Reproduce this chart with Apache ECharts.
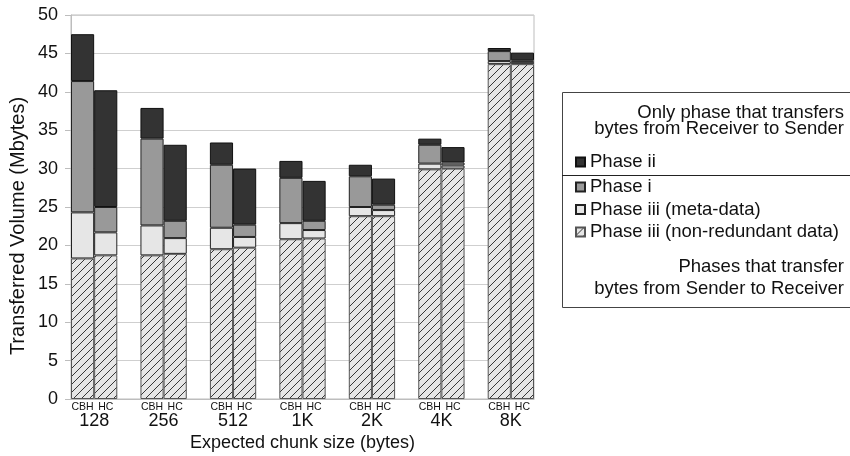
<!DOCTYPE html>
<html>
<head>
<meta charset="utf-8">
<script src="https://cdn.jsdelivr.net/npm/echarts@6/dist/echarts.min.js"></script>
<style>
  html, body { margin: 0; padding: 0; background: #fff; }
  #chart { width: 850px; height: 456px; }
</style>
</head>
<body>
<div id="chart"></div>
<script>
// chunk size groups, each has a CBH bar and a HC bar
var groups = ['128', '256', '512', '1K', '2K', '4K', '8K'];
var methods = ['CBH', 'HC'];

// Mbytes per phase (stacked bottom to top)
var nonRedundantCBH = [18.3, 18.7, 19.5, 20.8, 23.8, 29.9, 43.6];
var nonRedundantHC  = [18.7, 18.9, 19.7, 20.9, 23.8, 30.0, 43.6];
var metaDataCBH     = [6.0, 3.9, 2.8, 2.1, 1.2, 0.75, 0.4];
var metaDataHC      = [3.0, 2.05, 1.4, 1.1, 0.8, 0.4, 0.3];
var phaseICBH       = [17.1, 11.3, 8.2, 5.9, 4.0, 2.45, 1.3];
var phaseIHC        = [3.3, 2.25, 1.6, 1.2, 0.7, 0.4, 0.2];
var phaseIICBH      = [6.1, 4.0, 2.9, 2.2, 1.5, 0.8, 0.4];
var phaseIIHC       = [15.2, 9.9, 7.3, 5.2, 3.4, 2.0, 1.0];

var yTicks = [0, 5, 10, 15, 20, 25, 30, 35, 40, 45, 50];

// x slots: CBH, HC, gap, CBH, HC, gap ...
var slots = [];
groups.forEach(function (g, i) {
    slots.push(methods[0], methods[1]);
    if (i < groups.length - 1) slots.push('');
});

function spread(cbh, hc) {
    var out = [];
    for (var i = 0; i < groups.length; i++) {
        out.push(cbh[i], hc[i]);
        if (i < groups.length - 1) out.push('-');
    }
    return out;
}

// group label positions on the helper value axis (boundary between CBH and HC)
var groupPos = groups.map(function (g, i) { return i * 3 + 1; });

// hatch pattern for the non-redundant data
var tile = document.createElement('canvas');
tile.width = 8; tile.height = 8;
var ctx = tile.getContext('2d');
ctx.fillStyle = '#e6e6e6';
ctx.fillRect(0, 0, 8, 8);
ctx.strokeStyle = '#222';
ctx.lineWidth = 0.9;
ctx.beginPath();
ctx.moveTo(0, 8); ctx.lineTo(8, 0);
ctx.moveTo(-1, 1); ctx.lineTo(1, -1);
ctx.moveTo(7, 9); ctx.lineTo(9, 7);
ctx.stroke();

var FONT = '"Liberation Sans", Arial, sans-serif';
var LEG_FONT = 18.5;

function barSeries(name, data, color, border) {
    return {
        name: name,
        type: 'bar',
        stack: 'total',
        barCategoryGap: 0,
        barGap: 0,
        data: data,
        itemStyle: { color: color, borderColor: border, borderWidth: 1 }
    };
}

var chart = echarts.init(document.getElementById('chart'));

var option = {
    animation: false,
    textStyle: { fontFamily: FONT },
    grid: {
        left: 71, right: 316, top: 15, bottom: 57,
        outerBoundsMode: 'none',
        show: true, borderColor: '#bdbdbd', borderWidth: 1
    },
    legend: [{
        data: ['Phase ii'],
        left: 575, top: 152, padding: 0,
        itemWidth: 9, itemHeight: 9, itemGap: 5,
        icon: 'rect',
        textStyle: { fontFamily: FONT, fontSize: LEG_FONT, color: '#111', lineHeight: 20 }
    }, {
        data: ['Phase i', 'Phase iii (meta-data)', 'Phase iii (non-redundant data)'],
        orient: 'vertical',
        left: 575, top: 177, padding: 0,
        itemWidth: 9, itemHeight: 9, itemGap: 2.5,
        icon: 'rect',
        textStyle: { fontFamily: FONT, fontSize: LEG_FONT, color: '#111', lineHeight: 20 }
    }],
    xAxis: [{
        type: 'category',
        data: slots,
        position: 'bottom',
        axisLine: { lineStyle: { color: '#bdbdbd' } },
        axisTick: { show: false },
        axisLabel: { interval: 0, fontSize: 10.5, color: '#111', margin: 3 },
        name: 'Expected chunk size (bytes)',
        nameLocation: 'middle',
        nameGap: 35,
        nameTextStyle: { fontSize: 18, color: '#111', fontFamily: FONT }
    }, {
        type: 'value',
        min: 0, max: slots.length,
        position: 'bottom',
        axisLine: { show: false },
        axisTick: { show: false },
        splitLine: { show: false },
        axisLabel: {
            customValues: groupPos,
            fontSize: 18, color: '#111', margin: 13,
            formatter: function (v) { return groups[(v - 1) / 3]; }
        }
    }],
    yAxis: {
        type: 'value',
        min: yTicks[0], max: yTicks[yTicks.length - 1], interval: 5,
        axisLine: { show: true, lineStyle: { color: '#bdbdbd' } },
        axisTick: { show: true, length: 6, lineStyle: { color: '#bdbdbd' } },
        splitLine: { lineStyle: { color: '#cfcfcf' } },
        axisLabel: { fontSize: 18, color: '#111', margin: 13 }
    },
    series: [
        barSeries('Phase iii (non-redundant data)', spread(nonRedundantCBH, nonRedundantHC),
            { image: tile, repeat: 'repeat' }, '#555'),
        barSeries('Phase iii (meta-data)', spread(metaDataCBH, metaDataHC), '#e6e6e6', '#222'),
        barSeries('Phase i', spread(phaseICBH, phaseIHC), '#999999', '#222'),
        barSeries('Phase ii', spread(phaseIICBH, phaseIIHC), '#333333', '#111')
    ],
    graphic: [
        // y axis title, centred a bit below the plot middle like the original
        { type: 'text', x: 18, y: 226, rotation: Math.PI / 2,
          style: { text: 'Transferred Volume (Mbytes)', align: 'center', verticalAlign: 'middle', font: '20px ' + FONT, fill: '#111' } },
        { type: 'rect', shape: { x: 562.5, y: 92.5, width: 300, height: 215 },
          style: { fill: 'none', stroke: '#444', lineWidth: 1 }, silent: true },
        { type: 'line', shape: { x1: 562, y1: 175.5, x2: 850, y2: 175.5 },
          style: { stroke: '#222', lineWidth: 1 }, silent: true },
        { type: 'text', x: 844, y: 112.5,
          style: { text: 'Only phase that transfers', align: 'right', verticalAlign: 'middle', font: LEG_FONT + 'px ' + FONT, fill: '#111' } },
        { type: 'text', x: 844, y: 128.5,
          style: { text: 'bytes from Receiver to Sender', align: 'right', verticalAlign: 'middle', font: LEG_FONT + 'px ' + FONT, fill: '#111' } },
        { type: 'text', x: 844, y: 266.5,
          style: { text: 'Phases that transfer', align: 'right', verticalAlign: 'middle', font: LEG_FONT + 'px ' + FONT, fill: '#111' } },
        { type: 'text', x: 844, y: 288.5,
          style: { text: 'bytes from Sender to Receiver', align: 'right', verticalAlign: 'middle', font: LEG_FONT + 'px ' + FONT, fill: '#111' } }
    ]
};

chart.setOption(option);
</script>
</body>
</html>
